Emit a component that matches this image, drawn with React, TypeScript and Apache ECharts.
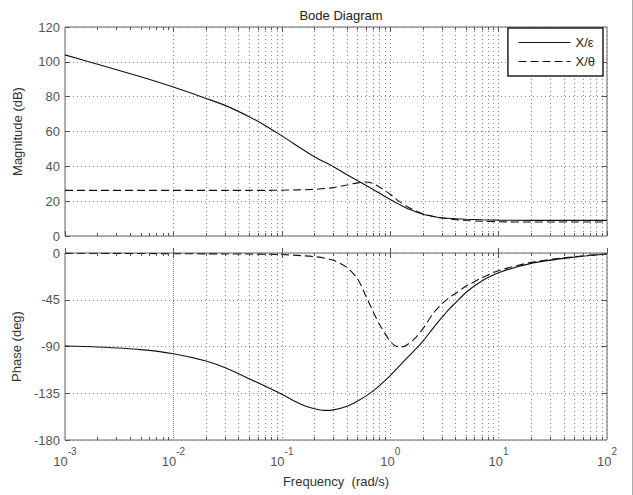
import React, { useEffect, useRef } from "react";
import * as echarts from "echarts";

// ---- data ----
const magFreq = [0.001, 0.002, 0.005, 0.01, 0.02, 0.03, 0.05, 0.07, 0.1, 0.2, 0.3, 0.4, 0.5, 0.6, 0.7, 0.8, 1.0, 1.2, 1.5, 2, 2.5, 3, 4, 5, 7, 10, 20, 50, 100];
const magXe = [104, 98.6, 91.4, 85.5, 79, 75, 68.5, 63.5, 57.5, 45.5, 39.8, 35.2, 31.8, 29, 26.6, 24.5, 21, 18.3, 15.3, 12.5, 11.2, 10.5, 9.9, 9.6, 9.3, 9.1, 9, 9, 9];
const magXt = [26.2, 26.2, 26.2, 26.2, 26.2, 26.2, 26.2, 26.2, 26.3, 26.8, 27.8, 29.3, 30.5, 31, 30, 28, 24, 20, 16.2, 12.8, 11.2, 10.3, 9.4, 8.9, 8.5, 8.2, 8, 8, 8];

const phaseFreq = [0.001, 0.002, 0.005, 0.01, 0.02, 0.03, 0.05, 0.1, 0.15, 0.2, 0.25, 0.3, 0.4, 0.5, 0.6, 0.7, 0.8, 1.0, 1.1, 1.25, 1.4, 1.7, 2, 2.5, 3, 3.5, 4, 5, 7, 10, 20, 50, 100];
const phaseXe = [-89.5, -90.5, -93, -97, -104, -110.5, -121, -136, -145.5, -150, -151.5, -151, -147.5, -142.5, -137.5, -132.5, -127.5, -118, -113.5, -107.5, -102, -93, -85, -72, -62, -54, -48, -38, -27, -19, -10, -4, -1];
const phaseXt = [-0.3, -0.3, -0.5, -0.7, -0.8, -0.9, -1, -1.5, -2.5, -3.5, -5, -7, -14, -25, -42, -57, -69, -85, -89, -90.5, -89, -82, -73, -58, -49, -43, -39, -32, -24, -17, -9, -3.5, -1];

const seriesNames = ["X/\u03b5", "X/\u03b8"];
const magTicks = [0, 20, 40, 60, 80, 100, 120];
const phaseTicks = [-180, -135, -90, -45, 0];
const decades = [0.001, 0.01, 0.1, 1, 10, 100];
const minorSteps = [2, 3, 4, 5, 6, 7, 8, 9];

const FONT = "'Liberation Sans', Arial, Helvetica, sans-serif";

const pairs = (xs: number[], ys: number[]) => xs.map((x, i) => [x, ys[i]]);

const minorFreqs = decades
  .slice(0, -1)
  .flatMap((d) => minorSteps.map((k) => +(d * k).toPrecision(3)));

const gridLine = { color: "#8a8a8a", width: 1, type: [1, 3] as number[] };
const tickLine = { color: "#555", width: 1, type: "solid" as const };

function gridMarks() {
  return {
    silent: true,
    symbol: ["none", "none"],
    z: 1,
    animation: false,
    label: { show: false },
    emphasis: { disabled: true },
    lineStyle: gridLine,
    data: minorFreqs.map((f) => ({ xAxis: f })),
  };
}

// edge ticks: tick length in px converted into axis units
function tickMarks(yMin: number, yMax: number, plotH: number, ticksY: number[]) {
  const dy = (yMax - yMin) / plotH;
  const items: any[] = [];
  const inner = decades.slice(1, -1);
  minorFreqs.forEach((f) => {
    items.push([{ coord: [f, yMin] }, { coord: [f, yMin + 3 * dy] }]);
    items.push([{ coord: [f, yMax] }, { coord: [f, yMax - 3 * dy] }]);
  });
  inner.forEach((f) => {
    items.push([{ coord: [f, yMax] }, { coord: [f, yMax - 5 * dy] }]);
  });
  const xr = Math.pow(10, -5 / 108.4);
  ticksY.slice(1, -1).forEach((v) => {
    items.push([{ coord: [100, v] }, { coord: [100 * xr, v] }]);
  });
  return {
    silent: true,
    symbol: ["none", "none"],
    animation: false,
    label: { show: false },
    emphasis: { disabled: true },
    lineStyle: tickLine,
    data: items,
  };
}

export default function App() {
  const ref = useRef<HTMLDivElement>(null);
  useEffect(() => {
    if (!ref.current) return;
    const chart = echarts.init(ref.current, undefined, { renderer: "svg" });
    const labelColor = "#555";
    const xBase = (gridIndex: number, showLabels: boolean) => ({
      type: "log" as const,
      logBase: 10,
      gridIndex,
      min: 0.001,
      max: 100,
      axisLine: { show: false },
      axisTick: { show: true, inside: true, length: 5, lineStyle: { color: "#555" } },
      splitLine: { show: true, lineStyle: gridLine },
      axisLabel: showLabels
        ? {
            show: true,
            margin: 6,
            formatter: (v: number) => {
              const e = Math.round(Math.log10(v));
              return `{b|10}{e|${e}}`;
            },
            rich: {
              b: { fontSize: 13, fontFamily: FONT, color: labelColor, lineHeight: 22, verticalAlign: "bottom" },
              e: { fontSize: 10, fontFamily: FONT, color: labelColor, lineHeight: 12, verticalAlign: "top" },
            },
          }
        : { show: false },
      name: showLabels ? "Frequency  (rad/s)" : "",
      nameLocation: "middle" as const,
      nameGap: 35,
      nameTextStyle: { fontSize: 13, fontFamily: FONT, color: "#333" },
    });
    const yBase = (gridIndex: number, min: number, max: number, interval: number, name: string) => ({
      type: "value" as const,
      gridIndex,
      min,
      max,
      interval,
      axisLine: { show: false },
      axisTick: { show: true, inside: true, length: 5, lineStyle: { color: "#555" } },
      splitLine: { show: true, lineStyle: gridLine },
      axisLabel: { fontSize: 13, fontFamily: FONT, color: labelColor, margin: 5 },
      name,
      nameLocation: "middle" as const,
      nameGap: 41,
      nameTextStyle: { fontSize: 13, fontFamily: FONT, color: "#333" },
    });

    const solid = { color: "#111", width: 1.1, type: "solid" as const };
    const dashed = { color: "#111", width: 1.1, type: [8, 4] as number[] };

    chart.setOption({
      animation: false,
      backgroundColor: "#fff",
      textStyle: { fontFamily: FONT },
      title: {
        text: "Bode Diagram",
        left: 336,
        textAlign: "center",
        top: 4,
        textStyle: { fontSize: 13, fontWeight: "normal", color: "#222", fontFamily: FONT },
      },
      legend: {
        data: seriesNames,
        orient: "vertical",
        right: 30,
        top: 28,
        itemWidth: 52,
        itemHeight: 14,
        itemGap: 6,
        padding: [8, 8, 8, 10],
        backgroundColor: "#fff",
        borderColor: "#222",
        borderWidth: 1.5,
        borderRadius: 0,
        itemStyle: { opacity: 0, borderWidth: 0 },
        lineStyle: { width: 1.1 },
        textStyle: { fontSize: 13, color: "#222", fontFamily: FONT },
        selectedMode: false,
        z: 10,
      },
      graphic: [
        {
          type: "line",
          shape: { x1: 632.5, y1: 0, x2: 632.5, y2: 495 },
          style: { stroke: "#aaa", lineWidth: 1 },
          silent: true,
        },
      ],
      grid: [
        { left: 65, top: 27, width: 542, height: 209, show: true, borderColor: "#666", borderWidth: 1, backgroundColor: "transparent" },
        { left: 65, top: 253, width: 542, height: 187, show: true, borderColor: "#666", borderWidth: 1, backgroundColor: "transparent" },
      ],
      xAxis: [xBase(0, false), xBase(1, true)],
      yAxis: [
        yBase(0, 0, 120, 20, "Magnitude (dB)"),
        yBase(1, -180, 0, 45, "Phase (deg)"),
      ],
      series: [
        {
          name: seriesNames[0],
          type: "line",
          xAxisIndex: 0,
          yAxisIndex: 0,
          data: pairs(magFreq, magXe),
          smooth: 0.3,
          symbol: "none",
          showSymbol: false,
          lineStyle: solid,
          itemStyle: { color: "#111" },
          z: 3,
          markLine: gridMarks(),
        },
        {
          name: seriesNames[1],
          type: "line",
          xAxisIndex: 0,
          yAxisIndex: 0,
          data: pairs(magFreq, magXt),
          smooth: 0.3,
          symbol: "none",
          showSymbol: false,
          lineStyle: dashed,
          itemStyle: { color: "#111" },
          z: 3,
          markLine: tickMarks(0, 120, 209, magTicks),
        },
        {
          name: seriesNames[0],
          type: "line",
          xAxisIndex: 1,
          yAxisIndex: 1,
          data: pairs(phaseFreq, phaseXe),
          smooth: 0.3,
          symbol: "none",
          showSymbol: false,
          lineStyle: solid,
          itemStyle: { color: "#111" },
          z: 3,
          markLine: gridMarks(),
        },
        {
          name: seriesNames[1],
          type: "line",
          xAxisIndex: 1,
          yAxisIndex: 1,
          data: pairs(phaseFreq, phaseXt),
          smooth: 0.3,
          symbol: "none",
          showSymbol: false,
          lineStyle: dashed,
          itemStyle: { color: "#111" },
          z: 3,
          markLine: tickMarks(-180, 0, 187, phaseTicks),
        },
      ],
    });
    return () => chart.dispose();
  }, []);
  return (
    <div
      ref={ref}
      style={{ position: "absolute", left: 0, top: 0, width: 633, height: 495, background: "#fff" }}
    />
  );
}
